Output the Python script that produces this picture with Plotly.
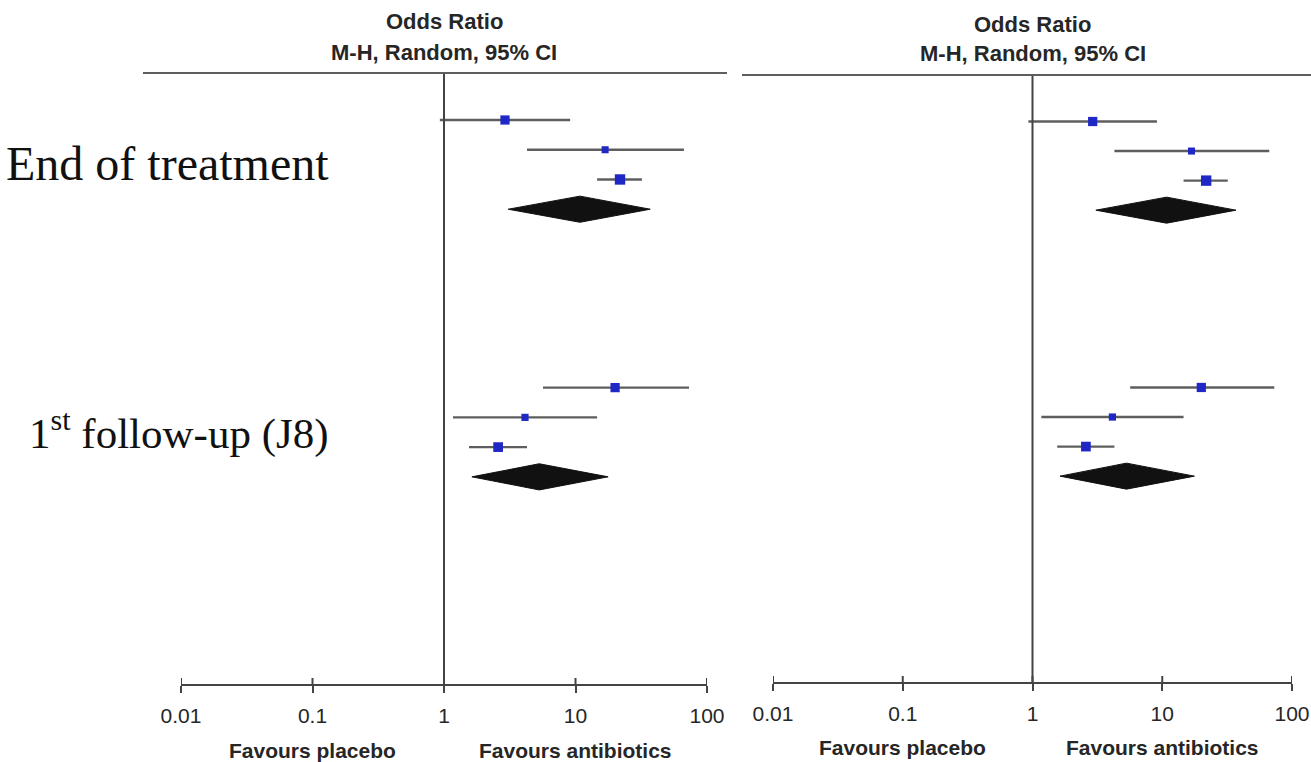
import math
import plotly.graph_objects as go

# ---------------- data ----------------
group_labels = ["End of treatment", "1<sup>st</sup> follow-up (J8)"]
# study-level odds ratios (estimate, lower, upper) and weights (%)
g1_or = [2.91, 16.8, 21.8]
g1_lo = [0.93, 4.28, 14.6]
g1_hi = [9.1, 66.8, 32.0]
g1_w = [38.0, 22.0, 48.0]
g1_pooled = [10.8, 3.08, 37.0]  # estimate, lower, upper

g2_or = [20.0, 4.13, 2.58]
g2_lo = [5.66, 1.17, 1.55]
g2_hi = [73.0, 14.6, 4.28]
g2_w = [38.0, 23.0, 42.0]
g2_pooled = [5.3, 1.63, 17.7]

tick_vals = [0.01, 0.1, 1, 10, 100]
tick_text = ["0.01", "0.1", "1", "10", "100"]
header_lines = ["Odds Ratio", "M-H, Random, 95% CI"]
favours = ["Favours placebo", "Favours antibiotics"]

# ---------------- layout constants ----------------
W, H = 1311, 762
SANS = "Liberation Sans, Arial, Helvetica, sans-serif"
SERIF = "Liberation Serif, Times New Roman, serif"
CI_COLOR = "#5e5e5e"
SQ_COLOR = "#1f28c4"
AX_COLOR = "#444444"
TXT_COLOR = "#262626"

groups = [
    dict(est=g1_or, lo=g1_lo, hi=g1_hi, w=g1_w, pooled=g1_pooled, row0=0),
    dict(est=g2_or, lo=g2_lo, hi=g2_hi, w=g2_w, pooled=g2_pooled, row0=9),
]
AXIS_ROW = 19

panels = [
    dict(x0=181, x1=707, row0_px=120.0, axis_px=685.0, head_px=73.0, hl0=143, hl1=727,
         head_y=(22, 52), fav_y=750),
    dict(x0=773, x1=1292, row0_px=121.5, axis_px=683.0, head_px=75.0, hl0=742, hl1=1311,
         head_y=(25, 54), fav_y=747),
]

fig = go.Figure()
shapes = []
annotations = []

for i, p in enumerate(panels):
    sfx = "" if i == 0 else str(i + 1)
    xa, ya = "x" + sfx, "y" + sfx
    s = (p["axis_px"] - p["row0_px"]) / AXIS_ROW
    vtop = -p["row0_px"] / s
    vbot = (H - p["row0_px"]) / s
    fig.update_layout(**{
        "xaxis" + sfx: dict(
            type="log", range=[-2, 2], domain=[p["x0"] / W, p["x1"] / W],
            anchor="free", position=1 - p["axis_px"] / H, automargin=False,
            showline=True, linecolor=AX_COLOR, linewidth=2,
            ticks="outside", ticklen=7, tickwidth=2, tickcolor=AX_COLOR,
            tickvals=tick_vals, ticktext=tick_text, showgrid=False, zeroline=False,
            tickfont=dict(family=SANS, size=21, color=TXT_COLOR),
            ticklabelstandoff=5, fixedrange=True,
        ),
        "yaxis" + sfx: dict(
            domain=[0, 1], range=[vbot, vtop], visible=False, anchor=xa,
            automargin=False, fixedrange=True,
        ),
    })
    pos = 1 - p["axis_px"] / H
    # upward half of crossing ticks
    for tv in tick_vals:
        shapes.append(dict(type="line", xref=xa, yref="paper", x0=tv, x1=tv,
                           ysizemode="pixel", yanchor=pos, y0=0, y1=7,
                           line=dict(color=AX_COLOR, width=2)))
    # line of no effect
    shapes.append(dict(type="line", xref=xa, yref="paper", x0=1, x1=1,
                       y0=1 - p["head_px"] / H, y1=pos,
                       line=dict(color=AX_COLOR, width=2)))
    # header rule
    shapes.append(dict(type="line", xref="paper", yref="paper",
                       x0=p["hl0"] / W, x1=p["hl1"] / W,
                       y0=1 - p["head_px"] / H, y1=1 - p["head_px"] / H,
                       line=dict(color=CI_COLOR, width=2)))
    # header text
    for txt, ypx in zip(header_lines, p["head_y"]):
        annotations.append(dict(text="<b>" + txt + "</b>", xref=xa, yref="paper", x=0,
                                y=1 - ypx / H, xanchor="center", yanchor="middle",
                                showarrow=False,
                                font=dict(family=SANS, size=22, color=TXT_COLOR)))
    for txt, xv in zip(favours, [0.1, 10]):
        annotations.append(dict(text="<b>" + txt + "</b>", xref=xa, yref="paper",
                                x=math.log10(xv), y=1 - p["fav_y"] / H,
                                xanchor="center", yanchor="middle", showarrow=False,
                                font=dict(family=SANS, size=21, color=TXT_COLOR)))

    for g in groups:
        rows = [g["row0"] + k for k in range(len(g["est"]))]
        cx, cy = [], []
        for lo, hi, r in zip(g["lo"], g["hi"], rows):
            cx += [lo, hi, None]
            cy += [r, r, None]
        fig.add_trace(go.Scatter(x=cx, y=cy, mode="lines", xaxis=xa, yaxis=ya,
                                 line=dict(color=CI_COLOR, width=2.4),
                                 hoverinfo="skip", showlegend=False))
        fig.add_trace(go.Scatter(x=g["est"], y=rows, mode="markers", xaxis=xa, yaxis=ya,
                                 marker=dict(symbol="square", color=SQ_COLOR, opacity=1,
                                             size=[1.5 * math.sqrt(w) for w in g["w"]],
                                             line=dict(width=0)),
                                 showlegend=False))
        est, lo, hi = g["pooled"]
        dr = g["row0"] + len(g["est"])
        hh = 0.44
        fig.add_trace(go.Scatter(x=[lo, est, hi, est, lo], y=[dr, dr - hh, dr, dr + hh, dr],
                                 mode="lines", fill="toself", fillcolor="#111111",
                                 line=dict(color="#111111", width=1), xaxis=xa, yaxis=ya,
                                 hoverinfo="skip", showlegend=False))

# group labels on the far left
for lbl, g, fs in zip(group_labels, groups, [48, 43]):
    annotations.append(dict(text=lbl, xref="paper", yref="y", x=331 / W,
                            y=g["row0"] + 1.45, xanchor="right", yanchor="middle",
                            showarrow=False,
                            font=dict(family=SERIF, size=fs, color="#111111")))

fig.update_layout(width=W, height=H, margin=dict(l=0, r=0, t=0, b=0, autoexpand=False),
                  paper_bgcolor="white", plot_bgcolor="white",
                  shapes=shapes, annotations=annotations, showlegend=False)

fig.write_html("out.html")
